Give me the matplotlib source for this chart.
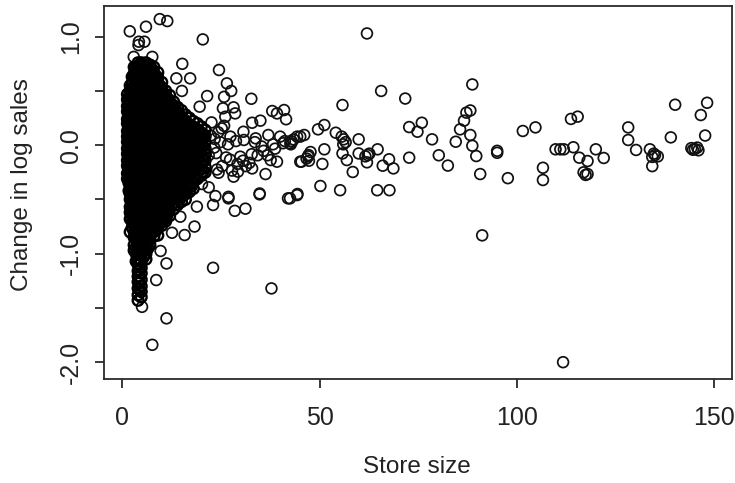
import matplotlib
matplotlib.use("Agg")
import matplotlib.pyplot as plt

plt.rcParams['font.family'] = ['Liberation Sans', 'DejaVu Sans']

# Sparse, individually readable stores
outer_size = [62.0,65.6,71.7,88.7,55.8,88.2,87.2,86.6,85.6,88.2,84.5,88.7,89.7,90.7,75.9,72.7,74.8,78.5,80.2,82.5,72.7,
              95.0,95.0,97.7,91.2,51.2,49.6,54.1,59.9,56.1,55.6,56.6,56.0,46.1,45.1,43.0,42.7,43.4,51.2,47.2,46.7,47.7,47.3,47.1,
              45.4,50.7,55.8,56.9,59.9,62.2,61.6,62.6,62.0,64.7,67.6,66.0,68.7,58.4,50.2,55.2,64.6,67.7,44.4,42.5,
              140.1,148.2,146.6,147.7,139.0,145.1,144.6,145.7,144.2,146.0,135.0,134.3,135.7,134.7,133.7,134.3,130.2,128.2,128.2,
              122.0,120.0,117.9,115.8,114.3,111.0,109.8,111.9,115.4,113.7,104.7,101.5,106.6,106.6,117.9,117.4,116.9,111.7]
outer_change = [1.03,.50,.43,.56,.37,.32,.30,.226,.146,.094,.032,-.005,-.10,-.266,.207,.167,.124,.054,-.093,-.188,-.115,
                -.07,-.052,-.304,-.831,.186,.146,.115,.054,.054,.079,.028,.008,.094,.079,.032,.008,.053,-.038,-.091,-.123,-.063,-.143,-.103,
                -.152,-.173,-.076,-.137,-.076,-.091,-.103,-.078,-.158,-.038,-.13,-.189,-.214,-.247,-.376,-.415,-.415,-.415,-.45,-.49,
                .373,.391,.278,.089,.072,-.035,-.042,-.022,-.027,-.047,-.091,-.108,-.103,-.078,-.038,-.193,-.044,.048,.164,
                -.118,-.038,-.146,-.115,-.019,-.038,-.038,-.038,.263,.242,.164,.131,-.208,-.321,-.266,-.274,-.25,-2.0]

mid_size = [11.2,7.6,37.8,23.0,8.6,5.0,11.2,9.7,18.3,15.8,12.6,14.7,11.2,18.9,23.0,28.5,31.2,26.9,23.6,21.9,34.8,42.0,44.3,20.2,
            9.5,11.4,6.0,1.9,20.4,4.2,5.6,4.1,15.2,24.5,13.7,17.2,26.5,27.6,15.1,25.8,21.5,32.7,19.6,25.5,28.2,28.6,26.1,
            38.0,41.0,39.2,41.5,35.0,32.9,2.9,7.6,30.7,33.8,37.0,40.0,44.3,42.6,37.6,39.2,36.3,32.9,28.2,24.4,34.8,26.9,45.1,
            25.2,27.4,29.9,29.2,30.6,31.3,32.2,27.8,26.3,23.8,24.8,22.4,23.3,26.8,28.8,33.6,35.3,38.2,40.7,35.8,30.8,32.8,27.3,
            24.3,25.8,22.6,23.4,25.3,29.3,34.3,36.8,38.7,41.2,42.7,24.0,21.9,20.9,20.3]
mid_change = [-1.596,-1.84,-1.32,-1.13,-1.243,-1.49,-1.09,-.975,-.75,-.828,-.807,-.659,-.674,-.566,-.551,-.605,-.585,-.49,-.469,-.388,-.453,-.49,-.46,-.358,
              1.162,1.144,1.092,1.05,.975,.954,.954,.923,.75,.693,.616,.616,.57,.50,.50,.446,.453,.428,.355,.34,.349,.293,.262,
              .315,.324,.293,.239,.226,.207,.814,.814,.124,.063,.094,.079,.079,.017,-.137,-.152,-.266,-.214,-.29,-.254,-.445,-.476,-.152,
              .155,.079,-.106,-.173,-.143,-.193,-.163,-.234,-.113,-.073,.028,.089,-.022,.008,.038,.028,-.012,.008,.018,-.052,.048,-.083,-.133,
              .119,.179,.21,.058,-.193,-.244,-.093,-.093,-.032,.038,.038,-.224,-.093,-.052,.109]

# Dense core, read column by column
core_size = [1.3,2.0,3.0,4.0,4.8,6.0,7.0,8.0,9.0,10.0,11.0,12.0,13.0,14.0,15.0,16.0,17.0,18.0,19.0,20.0,21.0]
core_change = [
 [.47,.42,.36,.31,.24,.2,.13,.08,.03,-.03,-.08,-.14,-.19,-.26,-.31],
 [.55,.5,.44,.4,.33,.29,.23,.17,.12,.06,.01,-.05,-.11,-.16,-.22,-.27,-.33,-.4,-.45,-.5,-.57,-.62,-.68,-.8],
 [.72,.66,.61,.55,.5,.46,.39,.34,.28,.23,.18,.11,.07,.0,-.04,-.1,-.14,-.2,-.25,-.31,-.36,-.42,-.47,-.53,-.58,-.63,-.69,-.74,-.8,-.85,-.92,-.97],
 [.76,.72,.69,.63,.59,.53,.47,.42,.36,.31,.26,.2,.15,.09,.04,-.02,-.07,-.12,-.18,-.23,-.29,-.34,-.39,-.45,-.5,-.56,-.61,-.66,-.72,-.78,-.83,-.89,-.93,-.99,-1.05,-1.1,-1.16,-1.21,-1.26,-1.32,-1.38,-1.43],
 [.76,.73,.67,.61,.56,.5,.45,.39,.34,.29,.23,.17,.12,.07,.01,-.04,-.1,-.15,-.2,-.26,-.31,-.36,-.42,-.47,-.53,-.59,-.64,-.69,-.75,-.8,-.86,-.91,-.96,-1.02,-1.07,-1.13,-1.18,-1.24,-1.3,-1.35,-1.4],
 [.76,.7,.65,.6,.53,.48,.43,.37,.32,.26,.21,.15,.1,.04,-.01,-.07,-.12,-.18,-.23,-.28,-.34,-.4,-.45,-.5,-.55,-.61,-.66,-.72,-.77,-.83,-.88,-.94,-1.0,-1.05],
 [.74,.69,.63,.57,.52,.46,.41,.35,.3,.24,.19,.13,.08,.02,-.04,-.09,-.15,-.2,-.25,-.31,-.36,-.42,-.47,-.53,-.58,-.64,-.7,-.75,-.8,-.86,-.92],
 [.72,.66,.61,.55,.5,.44,.38,.33,.28,.22,.17,.11,.06,.0,-.06,-.11,-.16,-.22,-.27,-.33,-.38,-.44,-.49,-.55,-.61,-.66,-.72,-.78,-.84],
 [.67,.62,.56,.51,.45,.4,.34,.29,.23,.18,.12,.07,.01,-.04,-.1,-.15,-.2,-.26,-.32,-.37,-.43,-.48,-.54,-.6,-.65,-.71,-.76,-.83],
 [.58,.53,.48,.42,.37,.31,.26,.2,.15,.09,.04,-.02,-.07,-.12,-.18,-.24,-.29,-.35,-.4,-.46,-.51,-.57,-.62,-.68,-.74],
 [.5,.45,.4,.34,.29,.23,.18,.12,.07,.01,-.05,-.1,-.15,-.21,-.26,-.32,-.37,-.43,-.49,-.54,-.6,-.66,-.7],
 [.46,.4,.35,.29,.24,.18,.13,.07,.02,-.04,-.09,-.14,-.2,-.25,-.31,-.36,-.42,-.47,-.53,-.59,-.65],
 [.4,.35,.3,.24,.19,.13,.08,.02,-.03,-.08,-.14,-.19,-.25,-.3,-.36,-.42,-.47,-.53,-.59],
 [.35,.3,.24,.18,.13,.07,.03,-.03,-.09,-.14,-.2,-.26,-.31,-.37,-.42,-.48,-.55],
 [.32,.26,.2,.15,.09,.04,-.02,-.07,-.13,-.18,-.24,-.29,-.35,-.41,-.46,-.52],
 [.28,.22,.17,.11,.06,.0,-.05,-.11,-.17,-.22,-.28,-.33,-.39,-.45,-.5],
 [.25,.19,.13,.08,.02,-.03,-.09,-.14,-.2,-.26,-.31,-.37,-.43],
 [.22,.16,.11,.05,.0,-.06,-.12,-.17,-.23,-.29,-.34,-.4],
 [.2,.14,.08,.03,-.03,-.08,-.14,-.2,-.25,-.31],
 [.17,.11,.06,.0,-.05,-.11,-.17,-.22,-.28],
 [.14,.08,.03,-.03,-.08,-.14,-.2,-.25],
]

# Stores lying between those columns
fill_size = [1.7,2.5,3.5,4.4,5.4,6.5,7.5,8.5,9.5,10.5,11.5,12.5,13.5,14.5,15.5,16.5,17.5,18.5,19.5,20.5]
fill_change = [
 [.45,.39,.33,.27,.22,.16,.1,.05,.0,-.06,-.11,-.17,-.23,-.29,-.35,-.42],
 [.63,.57,.52,.47,.42,.36,.31,.25,.2,.15,.09,.03,-.02,-.08,-.13,-.18,-.24,-.29,-.35,-.41,-.46,-.52,-.58,-.64,-.7,-.76],
 [.72,.68,.63,.57,.52,.45,.4,.33,.29,.24,.17,.12,.06,.01,-.05,-.1,-.16,-.21,-.27,-.32,-.37,-.43,-.48,-.54,-.59,-.64,-.7,-.76,-.81,-.87,-.94,-1.0,-1.07],
 [.74,.7,.64,.58,.53,.47,.42,.37,.31,.26,.2,.14,.09,.04,-.02,-.07,-.12,-.18,-.23,-.29,-.34,-.39,-.44,-.5,-.56,-.61,-.67,-.72,-.78,-.83,-.89,-.94,-.99,-1.05,-1.1,-1.15,-1.21,-1.27,-1.33],
 [.73,.68,.62,.57,.51,.46,.4,.35,.29,.24,.18,.12,.07,.02,-.04,-.09,-.15,-.2,-.26,-.31,-.37,-.42,-.48,-.53,-.58,-.64,-.69,-.75,-.8,-.85,-.91,-.97,-1.03],
 [.72,.66,.6,.55,.49,.44,.38,.33,.27,.22,.16,.11,.05,.0,-.06,-.12,-.17,-.23,-.28,-.33,-.39,-.44,-.5,-.56,-.61,-.67,-.72,-.78,-.83,-.89,-.95],
 [.7,.64,.58,.53,.47,.41,.36,.31,.25,.2,.14,.08,.03,-.03,-.08,-.14,-.19,-.24,-.3,-.36,-.41,-.47,-.52,-.58,-.64,-.69,-.75,-.81],
 [.64,.59,.53,.48,.42,.37,.31,.26,.2,.15,.09,.04,-.02,-.07,-.13,-.18,-.24,-.29,-.35,-.4,-.46,-.51,-.57,-.63,-.68,-.74,-.79],
 [.55,.5,.44,.39,.33,.28,.22,.17,.11,.06,.0,-.05,-.11,-.16,-.21,-.27,-.32,-.38,-.44,-.49,-.54,-.6,-.66,-.72],
 [.47,.42,.36,.31,.25,.2,.14,.09,.03,-.02,-.08,-.13,-.19,-.24,-.3,-.35,-.41,-.46,-.52,-.58,-.63,-.69],
 [.43,.37,.32,.26,.21,.15,.1,.04,-.01,-.07,-.12,-.18,-.23,-.29,-.34,-.4,-.45,-.51,-.57,-.63],
 [.38,.32,.27,.21,.16,.1,.05,-.01,-.06,-.12,-.17,-.22,-.28,-.33,-.39,-.45,-.5,-.56],
 [.33,.22,.11,.0,-.11,-.22,-.33,-.45],
 [.28,.16,.05,-.06,-.17,-.28,-.39,-.5],
 [.24,.12,.01,-.1,-.21,-.32,-.44],
 [.2,.09,-.02,-.13,-.25,-.36],
 [.18,.06,-.05,-.16,-.27,-.38],
 [.16,.04,-.08,-.19,-.3],
 [.13,.01,-.1,-.22],
 [.1,-.01,-.13,-.24],
]

x_ticks = [0, 50, 100, 150]
y_ticks = [-2.0, -1.5, -1.0, -0.5, 0.0, 0.5, 1.0]
y_tick_text = ["-2.0", "", "-1.0", "", "0.0", "", "1.0"]
x_label = "Store size"
y_label = "Change in log sales"

W, H = 735, 483
fig = plt.figure(figsize=(W/100, H/100), dpi=100, facecolor='white')
L, R, T, B = 104.3, 731.7, 5.7, 379
ax = fig.add_axes([L/W, 1-B/H, (R-L)/W, (B-T)/H])
ax.set_xlim(-4.56, 154.43)
ax.set_ylim(-2.155, 1.2857)

style = dict(facecolors='none', edgecolors='#111111', s=60, linewidths=1.25, clip_on=False)
dense = dict(facecolors='none', edgecolors='black', s=60, linewidths=1.7, clip_on=False)
ax.scatter(outer_size, outer_change, **style)
ax.scatter(mid_size, mid_change, **style)
for xv, ys in zip(core_size, core_change):
    ax.scatter([xv]*len(ys), ys, **dense)
for xv, ys in zip(fill_size, fill_change):
    ax.scatter([xv]*len(ys), ys, **dense)

for s in ax.spines.values():
    s.set_linewidth(1.3)
    s.set_color('#2a2a2a')
ax.set_xticks(x_ticks)
ax.set_yticks(y_ticks)
ax.set_xticklabels([str(v) for v in x_ticks])
ax.set_yticklabels(y_tick_text, rotation=90, va='center')
ax.tick_params(length=6.5, width=1.3, color='#2a2a2a', labelcolor='#222222', labelsize=18)
ax.tick_params(axis='x', pad=13)
ax.tick_params(axis='y', pad=9)
fig.text(417/W, 1-467/H, x_label, ha='center', va='center', fontsize=17.5, color='#222222')
fig.text(22/W, 1-185/H, y_label, ha='center', va='center', rotation=90, fontsize=17.5, color='#222222')
fig.savefig('out.png', dpi=100)
